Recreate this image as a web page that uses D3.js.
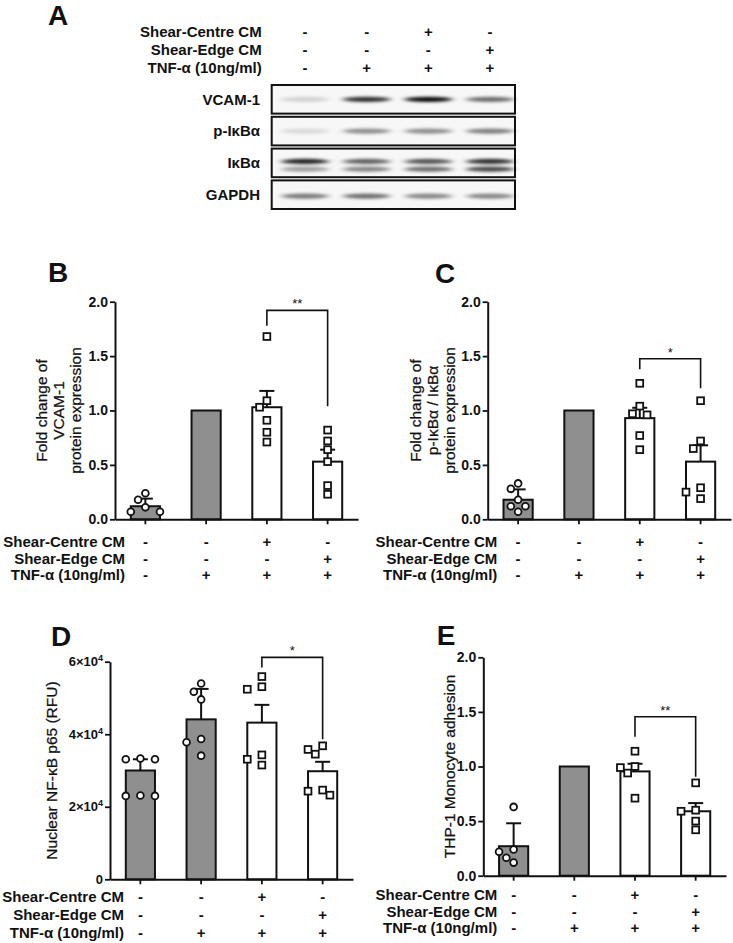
<!DOCTYPE html>
<html><head><meta charset="utf-8">
<script src="https://cdn.jsdelivr.net/npm/d3@7"></script>
<style>body{margin:0;background:#fff} svg text{font-family:"Liberation Sans",Arial,sans-serif}</style>
</head><body><svg id="c" width="733" height="943"></svg>
<script>
// ---------- data ----------
const groups = ["Control","TNF","TNF+Centre","TNF+Edge"];
const shearCentre = ["-","-","+","-"];
const shearEdge = ["-","-","-","+"];
const tnfAlpha = ["-","+","+","+"];
const rowLabels = ["Shear-Centre CM","Shear-Edge CM","TNF-α (10ng/ml)"];

const blotRows = ["VCAM-1","p-IκBα","IκBα","GAPDH"];
const vcamBands = [0.15,0.8,0.95,0.55];
const pIkbBands = [0.12,0.42,0.42,0.48];
const ikbBandsUpper = [0.85,0.6,0.65,0.8];
const ikbBandsLower = [0.35,0.45,0.55,0.7];
const gapdhBands = [0.5,0.55,0.45,0.45];

const foldTicks = [0,0.5,1,1.5,2];
const rfuTicks = [0,20000,40000,60000];

const vcamMean = [0.12,1.0,1.03,0.53];
const vcamSem = [0.07,0,0.15,0.11];
const vcamPoints = [[0.24,0.18,0.11,0.07,0.07,0.05],[],[1.68,1.09,1.03,0.91,0.80,0.71],[0.82,0.72,0.64,0.53,0.31,0.23]];

const pIkbMean = [0.18,1.0,0.93,0.53];
const pIkbSem = [0.095,0,0.095,0.15];
const pIkbPoints = [[0.33,0.28,0.18,0.12,0.12,0.07],[],[1.25,1.04,0.97,0.96,0.77,0.64],[1.09,0.72,0.65,0.29,0.25,0.19]];

const nfkbMean = [30000,44100,43200,29800];
const nfkbSem = [3100,8400,4900,2600];
const nfkbPoints = [[33100,33100,33300,23100,23000,23000],[54000,51700,49600,38700,37800,34100],[55900,53100,52400,34300,33100,31500],[36800,35800,34500,24600,24300,23200]];

const thpMean = [0.27,1.0,0.955,0.59];
const thpSem = [0.21,0,0.07,0.075];
const thpPoints = [[0.63,0.24,0.22,0.165,0.12],[],[1.14,1.0,0.99,0.94,0.71],[0.85,0.60,0.59,0.50,0.42]];

// significance annotations: [from group, to group, bracket top, left leg end, right leg end, label]
const sigB = [2,3,1.92,1.78,1.04,"**"];
const sigC = [2,3,1.476,1.38,1.205,"*"];
const sigD = [2,3,61200,58400,38600,"*"];
const sigE = [2,3,1.456,1.273,0.907,"**"];

// ---------- drawing ----------
const FONT = "Liberation Sans, Arial, sans-serif";
const svg = d3.select("#c");
svg.append("rect").attr("width",733).attr("height",943).attr("fill","#fff");
const defs = svg.append("defs");
defs.append("filter").attr("id","blur").attr("x","-50%").attr("y","-200%").attr("width","200%").attr("height","500%")
  .append("feGaussianBlur").attr("stdDeviation","3.5 1.4");

function letter(t,x,y){
  svg.append("text").attr("x",x).attr("y",y).attr("text-anchor","middle")
    .attr("font-size",28).attr("font-weight","bold").attr("fill","#111").text(t);
}

function treatmentRows(xPos, labelRight, y0, dy){
  const rows=[shearCentre,shearEdge,tnfAlpha];
  rows.forEach((r,i)=>{
    const y=y0+i*dy;
    svg.append("text").attr("x",labelRight).attr("y",y).attr("dy","0.35em").attr("text-anchor","end")
      .attr("font-size",15).attr("font-weight","bold").attr("fill","#111").text(rowLabels[i]);
    r.forEach((s,j)=>{
      svg.append("text").attr("x",xPos(groups[j])).attr("y",y).attr("dy","0.35em").attr("text-anchor","middle")
        .attr("font-size",15).attr("font-weight","bold").attr("fill","#111").text(s);
    });
  });
}

// ---- Panel A: western blot ----
letter("A",58,25);
const lane = d3.scalePoint().domain(groups).range([305,490]);
treatmentRows(lane,261.7,31.5,18);
const rowY = d3.scaleBand().domain(blotRows).range([85,209]).paddingInner(0.1);
const bandSets = [[vcamBands],[pIkbBands],[ikbBandsUpper,ikbBandsLower],[gapdhBands]];
const bandOffsets = [[0.5],[0.5],[0.45,0.72],[0.55]];
blotRows.forEach((r,i)=>{
  const y=rowY(r), h=rowY.bandwidth();
  svg.append("rect").attr("x",271.7).attr("y",y).attr("width",243.3).attr("height",h)
    .attr("fill","#f7f7f7").attr("stroke","#111").attr("stroke-width",2);
  const g=svg.append("g").attr("filter","url(#blur)");
  bandSets[i].forEach((set,k)=>{
    set.forEach((v,j)=>{
      g.append("ellipse").attr("cx",lane(groups[j])).attr("cy",y+h*bandOffsets[i][k])
        .attr("rx",24).attr("ry",2.6).attr("fill","#000").attr("opacity",v);
    });
  });
  svg.append("text").attr("x",260).attr("y",y+h/2).attr("dy","0.35em").attr("text-anchor","end")
    .attr("font-size",15).attr("font-weight","bold").attr("fill","#111").text(r);
});

// ---- bar panels ----
function dodge(vals, y, d){
  const placed=[];
  const sorted=vals.map((v,i)=>({v,i})).sort((a,b)=>b.v-a.v);
  const cands=[0,-1,1,-2,2,-3,3];
  sorted.forEach(p=>{
    const py=y(p.v);
    for(const c of cands){
      const px=c*d;
      if(placed.every(q=>Math.hypot(q.px-px,q.py-py)>=8.5)){placed.push({v:p.v,px,py});break;}
    }
  });
  return placed;
}

function barPanel(o){
  const x=d3.scaleBand().domain(groups).range([o.x0,o.x1]).paddingInner(0.52).paddingOuter(0.26);
  const y=d3.scaleLinear().domain(o.domain).range([o.yb,o.yt]);
  const bw=x.bandwidth();
  const g=svg.append("g");
  // bars
  g.selectAll("rect.bar").data(o.mean).join("rect")
    .attr("x",(d,i)=>x(groups[i])).attr("y",d=>y(d)).attr("width",bw).attr("height",d=>o.yb-y(d))
    .attr("fill",(d,i)=>i<2?"#8f8f8f":"#fff").attr("stroke","#111").attr("stroke-width",2);
  // error bars
  o.mean.forEach((m,i)=>{
    if(!o.sem[i]) return;
    const cx=x(groups[i])+bw/2;
    g.append("line").attr("x1",cx).attr("x2",cx).attr("y1",y(m)).attr("y2",y(m+o.sem[i])).attr("stroke","#111").attr("stroke-width",2);
    g.append("line").attr("x1",cx-7.5).attr("x2",cx+7.5).attr("y1",y(m+o.sem[i])).attr("y2",y(m+o.sem[i])).attr("stroke","#111").attr("stroke-width",2);
  });
  // points
  o.points.forEach((pts,i)=>{
    const cx=x(groups[i])+bw/2;
    dodge(pts,y,7.3).forEach(p=>{
      if(i<2){
        g.append("circle").attr("cx",cx+p.px).attr("cy",p.py).attr("r",3.4)
          .attr("fill","#fff").attr("stroke","#111").attr("stroke-width",1.8);
      } else {
        g.append("rect").attr("x",cx+p.px-3.4).attr("y",p.py-3.4).attr("width",6.8).attr("height",6.8)
          .attr("fill","#fff").attr("stroke","#111").attr("stroke-width",1.8);
      }
    });
  });
  // axes
  const ya=g.append("g").attr("transform",`translate(${o.x0},0)`)
    .call(d3.axisLeft(y).tickValues(o.ticks).tickSize(5).tickSizeOuter(0).tickPadding(2).tickFormat(o.fmt));
  ya.select(".domain").attr("stroke","#111").attr("stroke-width",2);
  ya.selectAll(".tick line").attr("stroke","#111").attr("stroke-width",1.8);
  ya.selectAll(".tick text").attr("fill","#111").attr("font-family",FONT)
    .attr("font-size",o.tickSize||14).attr("font-weight","bold").style("font-size",(o.tickSize||14)+"px").style("font-weight","bold");
  if(o.sup){
    ya.selectAll(".tick text").each(function(d){
      if(d>0){
        const t=d3.select(this); t.text(null);
        t.append("tspan").text((d/10000)+"×10");
        t.append("tspan").attr("dy","-0.55em").style("font-size","9px").text("4");
      }
    });
  }
  const xa=g.append("g").attr("transform",`translate(0,${o.yb})`)
    .call(d3.axisBottom(x).tickSize(5).tickSizeOuter(0).tickFormat(""));
  xa.select(".domain").attr("stroke","#111").attr("stroke-width",2);
  xa.selectAll(".tick line").attr("stroke","#111").attr("stroke-width",1.8);
  // y title
  o.title.forEach((t,k)=>{
    const tx=o.titleX+k*o.titleDy, ty=(o.yt+o.yb)/2;
    g.append("text").attr("transform",`translate(${tx},${ty}) rotate(-90)`).attr("dy","0.35em")
      .attr("text-anchor","middle").attr("font-size",15.5).attr("fill","#111")
      .attr("stroke","#111").attr("stroke-width",0.25).text(t);
  });
  // significance bracket
  const s=o.sig;
  const xa1=x(groups[s[0]])+bw/2, xa2=x(groups[s[1]])+bw/2;
  g.append("path").attr("d",`M${xa1},${y(s[3])}V${y(s[2])}H${xa2}V${y(s[4])}`)
    .attr("fill","none").attr("stroke","#111").attr("stroke-width",1.6);
  g.append("text").attr("x",(xa1+xa2)/2).attr("y",y(s[2])-2).attr("text-anchor","middle")
    .attr("font-size",13).attr("fill","#111").text(s[5]);
  // treatment rows
  const cx=g=>x(g)+bw/2;
  treatmentRows(cx,o.labelRight,o.yb+o.row0,o.rowDy);
}

const fold=d3.format(".1f");
letter("B",58,282);
barPanel({x0:115,x1:358,yb:519.3,yt:301.7,domain:[0,2],ticks:foldTicks,fmt:fold,
  mean:vcamMean,sem:vcamSem,points:vcamPoints,sig:sigB,
  title:["Fold change of","VCAM-1","protein expression"],titleX:41.5,titleDy:16.8,
  labelRight:125,row0:22.4,rowDy:16.7});

letter("C",445,283);
barPanel({x0:487.7,x1:731,yb:519.3,yt:301.7,domain:[0,2],ticks:foldTicks,fmt:fold,
  mean:pIkbMean,sem:pIkbSem,points:pIkbPoints,sig:sigC,
  title:["Fold change of","p-IκBα / IκBα","protein expression"],titleX:416,titleDy:17,
  labelRight:497.3,row0:22.4,rowDy:16.7});

letter("D",61,646);
barPanel({x0:110,x1:353,yb:879.3,yt:661.7,domain:[0,60000],ticks:rfuTicks,fmt:d=>d===0?"0":d,sup:true,tickSize:13,
  mean:nfkbMean,sem:nfkbSem,points:nfkbPoints,sig:sigD,
  title:["Nuclear NF-κB p65 (RFU)"],titleX:51.7,titleDy:0,
  labelRight:124,row0:17.4,rowDy:18.2});

letter("E",446,645);
barPanel({x0:483.3,x1:726,yb:875.7,yt:657.3,domain:[0,2],ticks:foldTicks,fmt:fold,
  mean:thpMean,sem:thpSem,points:thpPoints,sig:sigE,
  title:["THP-1 Monocyte adhesion"],titleX:450,titleDy:0,
  labelRight:497.3,row0:19.3,rowDy:16.6});
</script></body></html>
